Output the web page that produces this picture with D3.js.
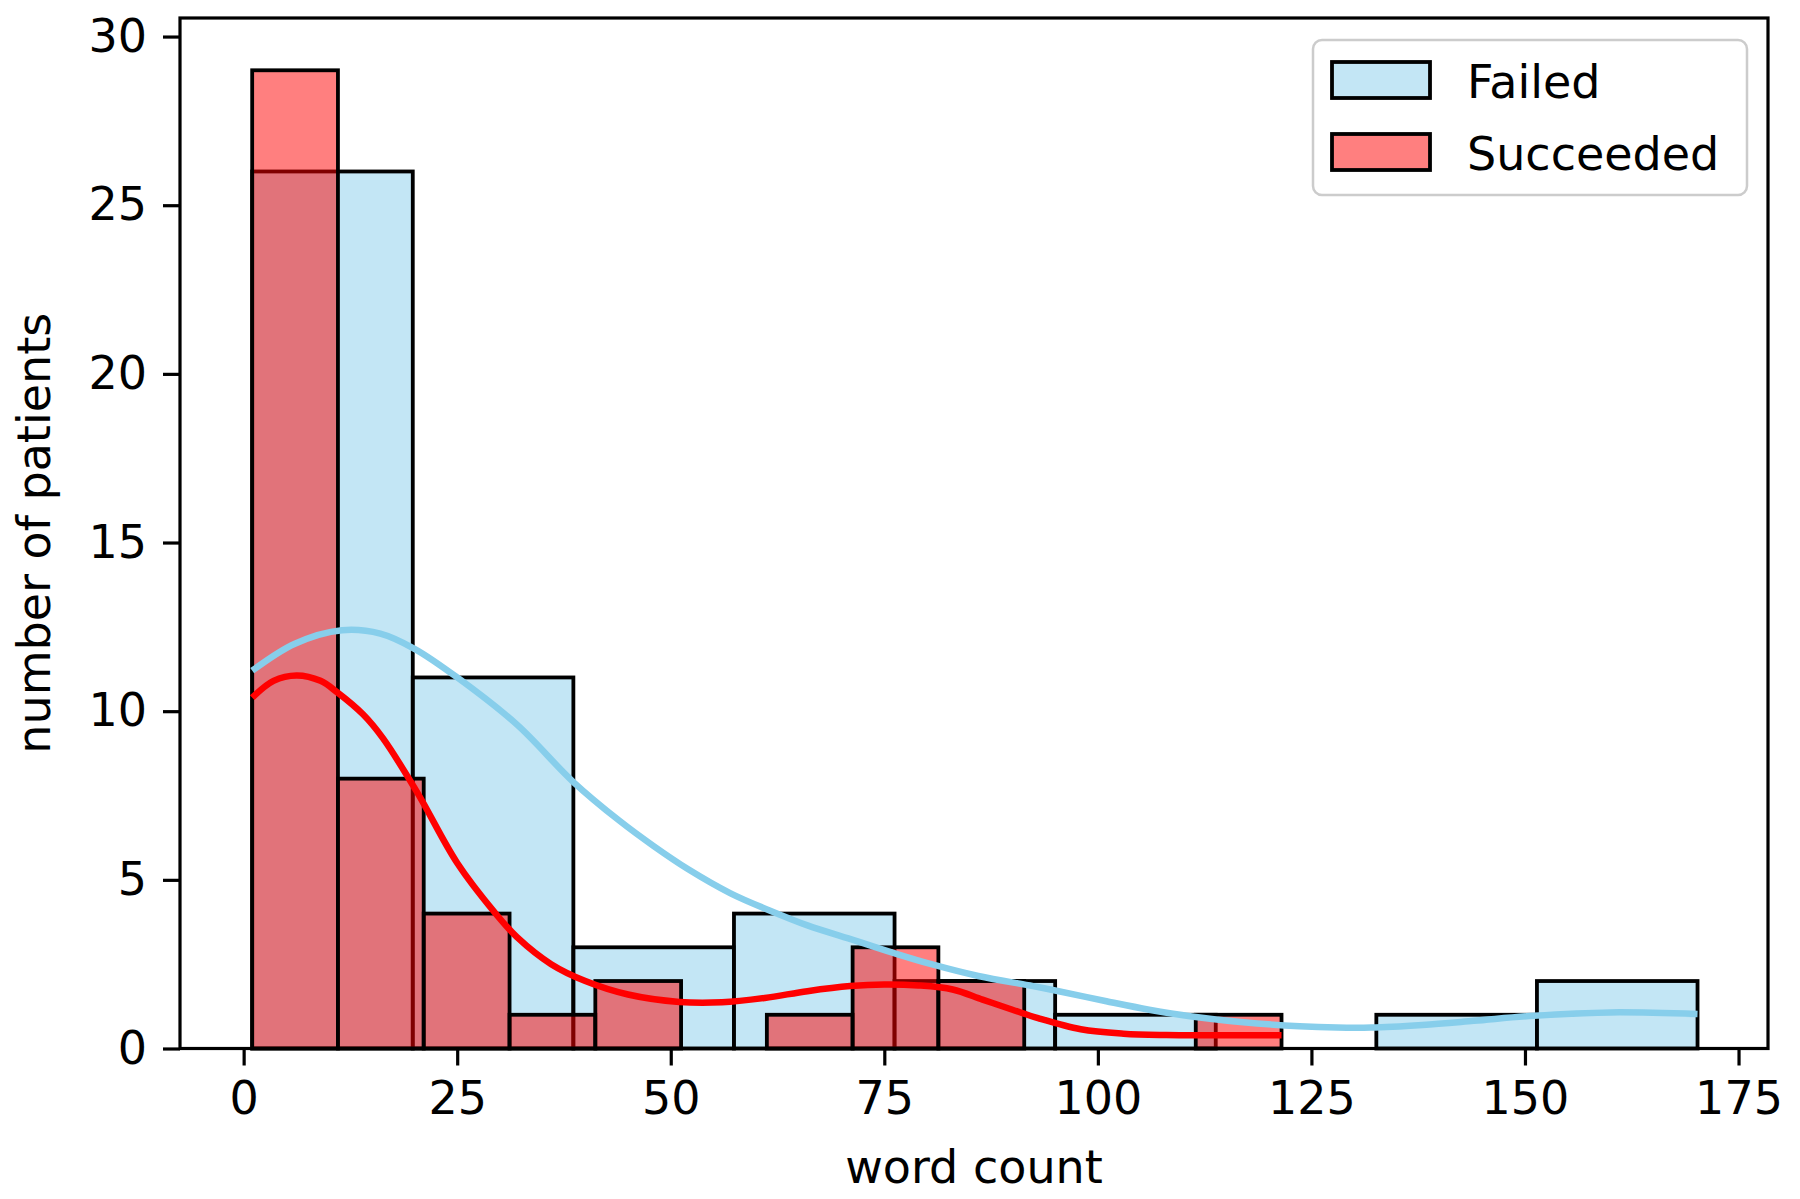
<!DOCTYPE html>
<html>
<head>
<meta charset="utf-8">
<script src="https://cdn.jsdelivr.net/npm/d3@7"></script>
<style>
  html, body { margin: 0; padding: 0; background: #fff; }
  svg { display: block; }
  text { font-family: "DejaVu Sans", sans-serif; fill: #000; }
</style>
</head>
<body>
<svg id="chart" width="1800" height="1199"></svg>
<script>
// ---- Data ----
const seriesNames = ["Failed", "Succeeded"];

const failedEdges  = [1, 19.8, 38.6, 57.4, 76.2, 95.0, 113.8, 132.6, 151.4, 170.2];
const failedCounts = [26, 11, 3, 4, 2, 1, 0, 1, 2];

const succeededEdges  = [1, 11.04, 21.08, 31.13, 41.17, 51.21, 61.25, 71.29, 81.33, 91.38, 101.42, 111.46, 121.5];
const succeededCounts = [29, 8, 4, 1, 2, 0, 1, 3, 2, 0, 0, 1];

const failedKdeX = [1, 6, 11.5, 16, 20, 25, 32, 38.6, 44, 48, 52, 57, 61.5, 66, 71.6, 76.5, 80.5, 86, 92.4, 95, 101, 106, 111, 117, 123.6, 128, 132, 138, 144, 151, 160, 170.2];
const failedKdeY = [11.2, 12.0, 12.4, 12.3, 11.85, 11.0, 9.6, 7.9, 6.75, 6.0, 5.32, 4.6, 4.1, 3.65, 3.2, 2.8, 2.5, 2.15, 1.85, 1.72, 1.4, 1.15, 0.95, 0.78, 0.66, 0.62, 0.62, 0.7, 0.82, 0.97, 1.07, 1.02];

const succeededKdeX = [1, 3.5, 6.2, 9, 11, 14, 16.3, 20.3, 25, 29.5, 32, 36, 40, 45, 51, 56, 61, 66, 71, 75, 79, 83, 86.5, 90, 93, 98, 103, 108, 115, 121.5];
const succeededKdeY = [10.4, 10.9, 11.06, 10.9, 10.55, 9.9, 9.2, 7.6, 5.5, 4.0, 3.3, 2.5, 2.0, 1.6, 1.38, 1.37, 1.5, 1.7, 1.85, 1.9, 1.87, 1.75, 1.45, 1.15, 0.9, 0.57, 0.44, 0.4, 0.39, 0.39];

const xTicks = [0, 25, 50, 75, 100, 125, 150, 175];
const yTicks = [0, 5, 10, 15, 20, 25, 30];
const xLabel = "word count";
const yLabel = "number of patients";

// ---- Layout ----
const svg = d3.select("#chart");
const mLeft = 180, mRight = 1768, mTop = 18, mBottom = 1048.5;
const FS = 46;

const x = d3.scaleLinear().domain([-7.45, 178.45]).range([mLeft, mRight]);
const y = d3.scaleLinear().domain([0, 30.55]).range([mBottom, mTop]);

svg.append("rect").attr("width", 1800).attr("height", 1199).attr("fill", "#fff");

function bins(edges, counts) {
  return counts.map((c, i) => ({ x0: edges[i], x1: edges[i + 1], c }));
}

const styles = {
  Failed:    { fill: "skyblue", line: "skyblue" },
  Succeeded: { fill: "red",     line: "red" }
};

const plot = svg.append("g");

// bars: Failed underneath, Succeeded on top
[["Failed", bins(failedEdges, failedCounts)], ["Succeeded", bins(succeededEdges, succeededCounts)]]
  .forEach(([name, data]) => {
    const g = plot.append("g");
    g.selectAll("rect").data(data.filter(d => d.c > 0)).join("rect")
      .attr("x", d => x(d.x0)).attr("width", d => x(d.x1) - x(d.x0))
      .attr("y", d => y(d.c)).attr("height", d => y(0) - y(d.c))
      .attr("fill", styles[name].fill).attr("fill-opacity", 0.5)
      .attr("stroke", "#000").attr("stroke-width", 3.8);
  });

// KDE lines
const line = d3.line().x(d => x(d[0])).y(d => y(d[1])).curve(d3.curveCatmullRom.alpha(0.5));
[["Failed", d3.zip(failedKdeX, failedKdeY)], ["Succeeded", d3.zip(succeededKdeX, succeededKdeY)]]
  .forEach(([name, pts]) => {
    plot.append("path").datum(pts).attr("d", line)
      .attr("fill", "none").attr("stroke", styles[name].line)
      .attr("stroke-width", 6.5).attr("stroke-linecap", "butt");
  });

// spines
svg.append("rect").attr("x", mLeft).attr("y", mTop).attr("width", mRight - mLeft).attr("height", mBottom - mTop)
  .attr("fill", "none").attr("stroke", "#000").attr("stroke-width", 3.2);

// axes
const xAxis = svg.append("g").attr("transform", `translate(0,${mBottom})`)
  .call(d3.axisBottom(x).tickValues(xTicks).tickSize(17).tickPadding(16).tickSizeOuter(0));
const yAxis = svg.append("g").attr("transform", `translate(${mLeft},0)`)
  .call(d3.axisLeft(y).tickValues(yTicks).tickSize(17).tickPadding(16).tickSizeOuter(0));
[xAxis, yAxis].forEach(a => {
  a.select(".domain").remove();
  a.selectAll(".tick line").attr("stroke", "#000").attr("stroke-width", 3.2);
  a.selectAll(".tick text").attr("font-size", FS).attr("font-family", "DejaVu Sans").attr("fill", "#000");
});

// axis labels
svg.append("text").attr("x", (mLeft + mRight) / 2).attr("y", 1183)
  .attr("text-anchor", "middle").attr("font-size", FS).text(xLabel);
svg.append("text").attr("transform", `translate(50,${(mTop + mBottom) / 2}) rotate(-90)`)
  .attr("text-anchor", "middle").attr("font-size", FS).text(yLabel);

// legend
const lg = svg.append("g");
lg.append("rect").attr("x", 1313).attr("y", 40).attr("width", 434).attr("height", 155).attr("rx", 9)
  .attr("fill", "#fff").attr("fill-opacity", 0.8).attr("stroke", "#cccccc").attr("stroke-width", 2.5);
seriesNames.forEach((name, i) => {
  const yy = 62 + i * 72;
  lg.append("rect").attr("x", 1332).attr("y", yy).attr("width", 98).attr("height", 36)
    .attr("fill", styles[name].fill).attr("fill-opacity", 0.5)
    .attr("stroke", "#000").attr("stroke-width", 3.8);
  lg.append("text").attr("x", 1467).attr("y", yy + 36).attr("font-size", FS).text(name);
});
</script>
</body>
</html>
